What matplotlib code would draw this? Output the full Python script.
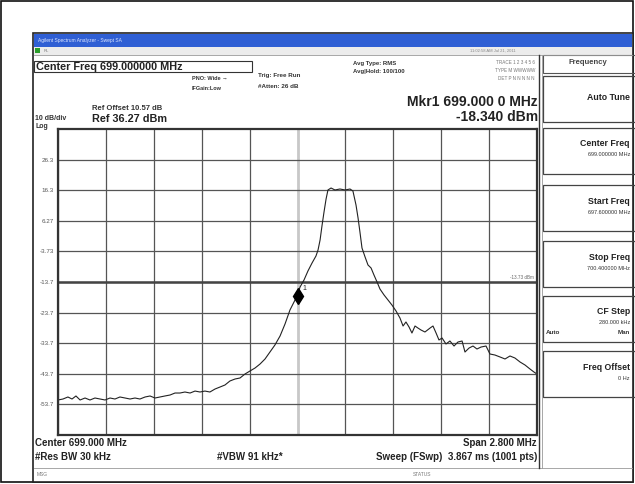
import matplotlib.pyplot as plt
from matplotlib.patches import Rectangle
import numpy as np

plt.rcParams['font.family'] = ['Liberation Sans', 'DejaVu Sans']

# Trace: frequency (MHz) and level (dBm)
freq_mhz = [697.600, 697.629, 697.658, 697.682, 697.705, 697.729, 697.758, 697.787,
            697.816, 697.846, 697.875, 697.904, 697.933, 697.962, 697.992, 698.021,
            698.050, 698.079, 698.109, 698.138, 698.167, 698.196, 698.225, 698.255,
            698.284, 698.313, 698.342, 698.372, 698.401, 698.430, 698.459, 698.488,
            698.518, 698.547, 698.576, 698.605, 698.635, 698.664, 698.693, 698.722,
            698.752, 698.781, 698.810, 698.839, 698.868, 698.898, 698.927, 698.956,
            698.997, 699.015, 699.038, 699.061, 699.085, 699.108, 699.120, 699.132,
            699.143, 699.155, 699.167, 699.178, 699.196, 699.219, 699.248, 699.278,
            699.307, 699.324, 699.342, 699.354, 699.365, 699.377, 699.395, 699.412,
            699.430, 699.447, 699.465, 699.482, 699.506, 699.529, 699.552, 699.576,
            699.599, 699.617, 699.634, 699.652, 699.669, 699.687, 699.704, 699.722,
            699.745, 699.775, 699.792, 699.810, 699.827, 699.845, 699.868, 699.891,
            699.915, 699.938, 699.962, 699.979, 700.003, 700.026, 700.049, 700.073,
            700.102, 700.125, 700.154, 700.184, 700.213, 700.242, 700.271, 700.301,
            700.330, 700.359, 700.382, 700.400]
level_dbm = [-52.29, -51.97, -51.31, -51.97, -50.98, -52.29, -51.64, -52.29,
             -51.64, -51.97, -52.29, -51.64, -51.97, -51.31, -51.64, -51.97,
             -51.64, -51.97, -51.31, -50.98, -51.64, -51.31, -50.98, -50.66,
             -50.01, -50.01, -49.68, -50.01, -49.37, -49.68, -49.37, -49.68,
             -48.70, -48.05, -47.39, -46.08, -45.43, -45.10, -43.80, -42.82,
             -41.83, -40.53, -38.90, -36.61, -34.32, -31.38, -27.46, -22.88,
             -18.34, -15.36, -13.08, -10.14, -7.52, -5.23, -3.27, 0.00,
             4.57, 9.15, 13.39, 16.34, 16.99, 16.34, 16.66, 16.34,
             16.66, 16.01, 11.43, 7.18, 2.61, -2.62, -5.56, -8.17,
             -9.15, -11.44, -13.73, -16.02, -17.98, -19.61, -21.25, -23.21,
             -25.50, -28.11, -26.80, -28.44, -30.40, -28.11, -28.77, -29.42,
             -30.07, -28.77, -28.11, -30.40, -32.68, -32.03, -33.99, -33.01,
             -34.65, -33.34, -33.01, -36.61, -35.30, -34.65, -35.63, -34.98,
             -34.65, -37.26, -37.59, -38.24, -38.89, -37.91, -38.57, -39.88,
             -40.86, -42.16, -43.14, -43.80]

ref_level = 36.27
db_per_div = 10
start_mhz = 697.6
stop_mhz = 700.4
marker_mhz = 699.000
marker_dbm = -18.34
display_line = -13.73
ytick_labels = ['26.3', '16.3', '6.27', '-3.73', '-13.7', '-23.7', '-33.7', '-43.7', '-53.7']

softkeys = [('Auto Tune', ''), ('Center Freq', '699.000000 MHz'),
            ('Start Freq', '697.600000 MHz'), ('Stop Freq', '700.400000 MHz'),
            ('CF Step', '280.000 kHz'), ('Freq Offset', '0 Hz')]
softkey_top = [76, 128, 185, 241, 296, 351]

W, H = 635, 484
fig = plt.figure(figsize=(W / 100, H / 100), dpi=100)

# background "screen" drawn in pixel units
bg = fig.add_axes([0, 0, 1, 1])
bg.set_xlim(0, W)
bg.set_ylim(H, 0)
bg.axis('off')

bg.add_patch(Rectangle((1, 1), W - 3, H - 3, fill=False, ec='#111', lw=1.2))
bg.add_patch(Rectangle((33, 33), 600, 449, fc='white', ec='#222', lw=1.2))
bg.add_patch(Rectangle((34, 34), 598, 13, fc='#2f5fd4', ec='none'))
bg.text(38, 40.5, 'Agilent Spectrum Analyzer - Swept SA', fontsize=3.5,
        color='#dde6ff', va='center')
bg.add_patch(Rectangle((34, 47), 598, 8, fc='#ececec', ec='none'))
bg.add_patch(Rectangle((35, 48), 5, 5, fc='#2a9d2a', ec='none'))
bg.text(44, 51, 'RL', fontsize=3, color='#777', va='center')
bg.text(470, 51, '11:02:58 AM Jul 21, 2011', fontsize=3, color='#888', va='center')
bg.plot([34, 632], [55, 55], color='#999', lw=0.6)

# header
bg.add_patch(Rectangle((34, 61), 218, 11, fill=False, ec='#333', lw=0.8))
bg.text(36, 66.5, 'Center Freq 699.000000 MHz', fontsize=7.8, fontweight='bold',
        color='#222', va='center')
bg.text(192, 78, 'PNO: Wide \u2192', fontsize=4, fontweight='bold', color='#333', va='center')
bg.text(192, 88, 'IFGain:Low', fontsize=4, fontweight='bold', color='#333', va='center')
bg.text(258, 75, 'Trig: Free Run', fontsize=4.5, fontweight='bold', color='#333', va='center')
bg.text(258, 87, '#Atten: 26 dB', fontsize=4.5, fontweight='bold', color='#333', va='center')
bg.text(353, 63, 'Avg Type: RMS', fontsize=4.3, fontweight='bold', color='#333', va='center')
bg.text(353, 72, 'Avg|Hold: 100/100', fontsize=4.3, fontweight='bold', color='#333', va='center')
bg.text(535, 63, 'TRACE 1 2 3 4 5 6', fontsize=3.3, color='#777', va='center', ha='right')
bg.text(535, 71, 'TYPE M WWWWW', fontsize=3.3, color='#777', va='center', ha='right')
bg.text(535, 79, 'DET P N N N N N', fontsize=3.3, color='#777', va='center', ha='right')
bg.text(538, 102, 'Mkr1 699.000 0 MHz', fontsize=10, fontweight='bold',
        color='#222', va='center', ha='right')
bg.text(538, 117, '-18.340 dBm', fontsize=10, fontweight='bold',
        color='#222', va='center', ha='right')
bg.text(92, 109, 'Ref Offset 10.57 dB', fontsize=5.5, fontweight='bold', color='#333', va='center')
bg.text(92, 119, 'Ref 36.27 dBm', fontsize=7.8, fontweight='bold', color='#222', va='center')
bg.text(35, 119, '10 dB/div', fontsize=5, fontweight='bold', color='#333', va='center')
bg.text(35, 127, 'Log', fontsize=5, fontweight='bold', color='#333', va='center')

# footer
bg.text(35, 443, 'Center 699.000 MHz', fontsize=7, fontweight='bold', color='#222', va='center')
bg.text(35, 457, '#Res BW 30 kHz', fontsize=7, fontweight='bold', color='#222', va='center')
bg.text(217, 457, '#VBW 91 kHz*', fontsize=7, fontweight='bold', color='#222', va='center')
bg.text(537, 443, 'Span 2.800 MHz', fontsize=7, fontweight='bold', color='#222',
        va='center', ha='right')
bg.text(537, 457, 'Sweep (FSwp)  3.867 ms (1001 pts)', fontsize=7, fontweight='bold',
        color='#222', va='center', ha='right')
bg.plot([34, 632], [468, 468], color='#999', lw=0.6)
bg.text(37, 475, 'MSG', fontsize=3.5, color='#777', va='center')
bg.text(422, 475, 'STATUS', fontsize=3.5, color='#777', va='center', ha='center')

# softkey panel
bg.plot([539, 539], [55, 468], color='#333', lw=1.0)
bg.plot([542, 542], [55, 468], color='#999', lw=0.6)
bg.add_patch(Rectangle((543, 55), 92, 18, fill=False, ec='#555', lw=0.8))
bg.text(588, 63, 'Frequency', fontsize=5.5, fontweight='bold', color='#444',
        va='center', ha='center')
for (label, value), top in zip(softkeys, softkey_top):
    bg.add_patch(Rectangle((543, top), 92, 46, fill=False, ec='#444', lw=0.9))
    if value:
        bg.text(630, top + 16, label, fontsize=6.3, fontweight='bold', color='#222',
                va='center', ha='right')
        bg.text(630, top + 27, value, fontsize=4, color='#333', va='center', ha='right')
    else:
        bg.text(630, top + 21, label, fontsize=6.3, fontweight='bold', color='#222',
                va='center', ha='right')
bg.text(546, 333, 'Auto', fontsize=4.5, fontweight='bold', color='#333', va='center')
bg.text(630, 333, 'Man', fontsize=4.5, fontweight='bold', color='#333', va='center', ha='right')

# trace window
ax = fig.add_axes([58 / W, (H - 435) / H, 479 / W, 306 / H], zorder=2)
ax.set_facecolor('white')
ax.set_xlim(start_mhz, stop_mhz)
ax.set_ylim(ref_level - 10 * db_per_div, ref_level)
ax.set_xticks(np.linspace(start_mhz, stop_mhz, 11))
yticks = [ref_level - db_per_div * (k + 1) for k in range(9)]
ax.set_yticks(yticks)
ax.set_yticklabels(ytick_labels)
ax.tick_params(axis='y', length=0, pad=3, labelsize=4.5, labelcolor='#555')
ax.tick_params(axis='x', length=0, labelbottom=False)
ax.grid(True, color='#555', lw=0.9)
ax.get_xgridlines()[5].set_color('#c8c8c8')
ax.get_xgridlines()[5].set_linewidth(2)
for s in ax.spines.values():
    s.set_color('#333')
    s.set_linewidth(1.6)

ax.axhline(display_line, color='#444', lw=1.8)
ax.text(stop_mhz - 0.02, display_line + 0.8, '-13.73 dBm', fontsize=3.3,
        color='#666', ha='right', va='bottom')

ax.plot(freq_mhz, level_dbm, color='#222', lw=0.8)
ax.plot(marker_mhz, marker_dbm, marker='d', ms=8, color='black', ls='none')
ax.text(marker_mhz + 0.03, marker_dbm + 2.0, '1', fontsize=5, color='#222')

fig.savefig('out.png', dpi=100)
